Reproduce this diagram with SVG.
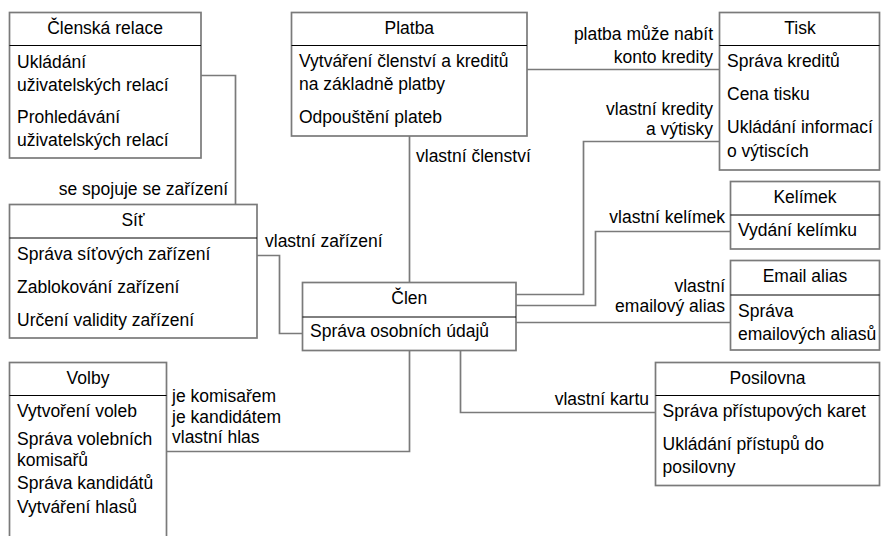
<svg xmlns="http://www.w3.org/2000/svg" width="881" height="536" viewBox="0 0 881 536">
  <style>
    text { font-family: "Liberation Sans", Arial, sans-serif; font-size: 17.5px; fill: #000; }
    .title { text-anchor: middle; }
    .end { text-anchor: end; }
    .box { fill: #fff; stroke: #7a7a7a; stroke-width: 1.7; }
    .sep { stroke: #000; stroke-width: 1; }
    .conn path { fill: none; stroke: #7a7a7a; stroke-width: 1.7; }
  </style>
  <rect width="881" height="536" fill="#fff"/>

  <!-- connectors -->
  <g id="connectors" class="conn">
    <path d="M201 75.5 H235.5 V204.5"/>
    <path d="M527 69.5 H719.5"/>
    <path d="M409.5 136 V282.5"/>
    <path d="M257 255.5 H279.5 V333.5 H302.5"/>
    <path d="M516 294.5 H583.5 V141.5 H719.5"/>
    <path d="M516 305.5 H595.5 V231.5 H730.5"/>
    <path d="M516 322.5 H730.5"/>
    <path d="M460.5 350.5 V412.5 H655.5"/>
    <path d="M409.5 350.5 V451.5 H166.5"/>
  </g>

  <!-- connector labels -->
  <g id="labels">
    <text class="end" x="228" y="195">se spojuje se zařízení</text>
    <text x="265" y="247">vlastní zařízení</text>
    <text x="416" y="162">vlastní členství</text>
    <text class="end" x="713" y="40">platba může nabít</text>
    <text class="end" x="713" y="63">konto kredity</text>
    <text class="end" x="713" y="115">vlastní kredity</text>
    <text class="end" x="713" y="135">a výtisky</text>
    <text class="end" x="725" y="223">vlastní kelímek</text>
    <text class="end" x="725" y="291.5">vlastní</text>
    <text class="end" x="725" y="311.5">emailový alias</text>
    <text class="end" x="649" y="405">vlastní kartu</text>
    <text x="172" y="401.5">je komisařem</text>
    <text x="172" y="422.5">je kandidátem</text>
    <text x="172" y="442.5">vlastní hlas</text>
  </g>

  <g id="clenska-relace">
    <rect class="box" x="9.5" y="12.5" width="191.5" height="145.5"/>
    <line class="sep" x1="9.5" y1="45.5" x2="201" y2="45.5"/>
    <text class="title" x="105" y="33.5">Členská relace</text>
    <text x="17" y="68">Ukládání</text>
    <text x="17" y="90.5">uživatelských relací</text>
    <text x="17" y="123">Prohledávání</text>
    <text x="17" y="146">uživatelských relací</text>
  </g>

  <g id="platba">
    <rect class="box" x="291.5" y="12.5" width="235.5" height="123.5"/>
    <line class="sep" x1="291.5" y1="45.5" x2="527" y2="45.5"/>
    <text class="title" x="409.3" y="33.5">Platba</text>
    <text x="299" y="66.5">Vytváření členství a kreditů</text>
    <text x="299" y="89.5">na základně platby</text>
    <text x="299" y="123">Odpouštění plateb</text>
  </g>

  <g id="tisk">
    <rect class="box" x="719.5" y="12.5" width="160" height="157.5"/>
    <line class="sep" x1="719.5" y1="45.5" x2="879.5" y2="45.5"/>
    <text class="title" x="800" y="33.5">Tisk</text>
    <text x="727" y="66.5">Správa kreditů</text>
    <text x="727" y="99.5">Cena tisku</text>
    <text x="727" y="133">Ukládání informací</text>
    <text x="727" y="156.5">o výtiscích</text>
  </g>

  <g id="kelimek">
    <rect class="box" x="730.5" y="181.5" width="149" height="67.5"/>
    <line class="sep" x1="730.5" y1="215" x2="879.5" y2="215"/>
    <text class="title" x="805" y="202.5">Kelímek</text>
    <text x="738" y="235.5">Vydání kelímku</text>
  </g>

  <g id="email-alias">
    <rect class="box" x="730.5" y="260.5" width="149" height="89.5"/>
    <line class="sep" x1="730.5" y1="295" x2="879.5" y2="295"/>
    <text class="title" x="805" y="281.5">Email alias</text>
    <text x="738" y="317">Správa</text>
    <text x="738" y="340">emailových aliasů</text>
  </g>

  <g id="sit">
    <rect class="box" x="9.5" y="204.5" width="247.5" height="133.5"/>
    <line class="sep" x1="9.5" y1="238" x2="257" y2="238"/>
    <text class="title" x="133" y="225.5">Síť</text>
    <text x="17" y="259.5">Správa síťových zařízení</text>
    <text x="17" y="292.5">Zablokování zařízení</text>
    <text x="17" y="326">Určení validity zařízení</text>
  </g>

  <g id="clen">
    <rect class="box" x="302.5" y="282.5" width="213.5" height="68"/>
    <line class="sep" x1="302.5" y1="317" x2="516" y2="317"/>
    <text class="title" x="409.3" y="303.5">Člen</text>
    <text x="310" y="337">Správa osobních údajů</text>
  </g>

  <g id="volby">
    <rect class="box" x="9.5" y="362.5" width="157" height="180"/>
    <line class="sep" x1="9.5" y1="395.5" x2="166.5" y2="395.5"/>
    <text class="title" x="88" y="383.5">Volby</text>
    <text x="17" y="416.5">Vytvoření voleb</text>
    <text x="17" y="445">Správa volebních</text>
    <text x="17" y="465.5">komisařů</text>
    <text x="17" y="488.5">Správa kandidátů</text>
    <text x="17" y="513">Vytváření hlasů</text>
  </g>

  <g id="posilovna">
    <rect class="box" x="655.5" y="362.5" width="224" height="123"/>
    <line class="sep" x1="655.5" y1="395.5" x2="879.5" y2="395.5"/>
    <text class="title" x="767.5" y="383.5">Posilovna</text>
    <text x="662.5" y="416.5">Správa přístupových karet</text>
    <text x="662.5" y="450">Ukládání přístupů do</text>
    <text x="662.5" y="473">posilovny</text>
  </g>
</svg>
